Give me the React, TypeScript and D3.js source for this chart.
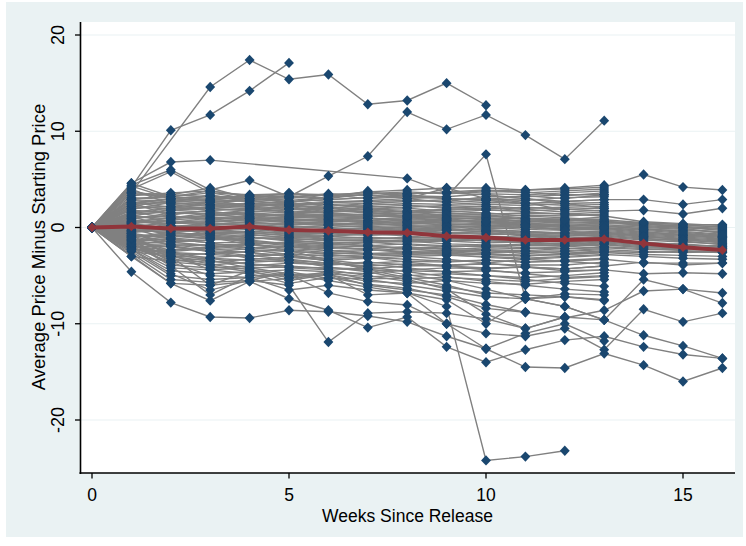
import React from 'react';
import * as d3 from 'd3';

const weeks = [0, 1, 2, 3, 4, 5, 6, 7, 8, 9, 10, 11, 12, 13, 14, 15, 16];

// average across titles (red line)
const meanChange = [0, 0.1, -0.1, -0.1, 0.1, -0.25, -0.35, -0.5, -0.55, -0.9, -1.05, -1.3, -1.3, -1.2, -1.65, -2.05, -2.35];

// titles observed for all 16 weeks
const longRun = [
  [0, 2.8, 2.5, 2.6, 2.2, 2.0, 1.8, 1.5, 1.2, 1.0, 0.8, 0.6, 0.5, 0.4, 0.3, 0.2, 0.1],
  [0, 1.5, 1.8, 1.6, 1.4, 1.2, 1.0, 0.9, 0.7, 0.5, 0.4, 0.2, 0.0, -0.1, -0.2, -0.3, -0.4],
  [0, 0.5, 0.8, 1.0, 0.9, 0.6, 0.5, 0.3, 0.2, 0.1, 0.0, -0.2, -0.3, -0.2, -0.5, -0.7, -0.9],
  [0, -0.5, -0.3, -0.4, -0.2, -0.5, -0.6, -0.8, -0.7, -0.9, -1.0, -1.1, -1.2, -1.0, -1.3, -1.5, -1.7],
  [0, -1.2, -1.5, -1.3, -1.0, -1.4, -1.6, -1.5, -1.8, -2.0, -1.9, -2.1, -2.2, -2.0, -2.2, -2.4, -2.6],
  [0, 0.2, 0.0, 0.3, 0.6, 0.2, 0.0, -0.2, -0.3, -0.5, -0.6, -0.8, -0.9, -0.7, -1.0, -1.2, -1.4],
  [0, 1.0, 1.2, 0.9, 1.1, 0.8, 0.6, 0.7, 0.5, 0.3, 0.3, 0.1, 0.2, 0.3, 0.0, -0.2, -0.5],
  [0, -2.0, -2.3, -2.1, -1.8, -2.2, -2.4, -2.3, -2.5, -2.6, -2.4, -2.7, -2.5, -2.3, -2.5, -2.6, -2.5],
  [0, 3.5, 3.2, 2.9, 2.7, 2.5, 2.4, 2.2, 2.0, 1.7, 1.5, 1.2, 1.0, 0.8, 0.5, 0.3, 0.0],
  [0, -0.8, -1.0, -0.7, -0.5, -0.9, -1.1, -1.0, -1.2, -1.4, -1.6, -1.5, -1.7, -1.5, -1.8, -2.0, -2.2],
  [0, 0.8, 0.4, 0.5, 0.3, 0.1, -0.1, -0.3, -0.1, -0.3, -0.4, -0.6, -0.5, -0.4, -0.7, -0.9, -1.1],
  [0, -1.6, -2.0, -2.4, -2.6, -3.0, -3.2, -3.1, -3.3, -3.5, -3.4, -3.6, -3.5, -3.3, -3.7, -3.7, -3.7],
  [0, 2.0, 2.2, 2.0, 1.7, 1.5, 1.3, 1.1, 1.3, 1.0, 0.9, 0.7, 0.6, 0.5, 0.4, 0.0, -0.3],
  [0, -0.2, -0.6, -0.8, -1.0, -1.2, -1.3, -1.4, -1.5, -1.4, -1.3, -1.6, -1.8, -1.6, -1.9, -2.1, -2.3],
  [0, 0.0, 0.2, -0.1, 0.0, -0.3, -0.4, -0.5, -0.6, -0.8, -0.9, -1.0, -0.9, -0.8, -1.1, -1.4, -1.8],
  [0, -2.5, -3.0, -3.5, -3.8, -4.0, -4.3, -4.4, -4.5, -4.6, -4.5, -4.7, -4.6, -4.4, -4.8, -4.7, -4.8],
  [0, 1.2, 0.9, 1.3, 1.5, 1.3, 1.1, 1.0, 0.8, 0.7, 0.6, 0.4, 0.3, 0.1, -0.1, -0.4, -0.7],
  [0, -1.0, -0.8, -1.1, -1.3, -1.7, -1.9, -2.0, -2.1, -2.2, -2.3, -2.4, -2.2, -2.1, -2.3, -2.3, -2.4],
  [0, 4.3, 3.0, 3.3, 3.0, 3.2, 3.4, 3.0, 3.2, 3.0, 2.8, 2.5, 2.7, 2.9, 2.9, 2.4, 2.9],
  [0, 4.6, 3.2, 3.8, 3.3, 3.5, 3.4, 3.6, 3.5, 3.6, 3.8, 3.9, 4.0, 4.2, 5.5, 4.2, 3.9],
  [0, 2.4, 2.6, 2.3, 2.1, 1.9, 2.0, 1.8, 1.6, 1.8, 1.9, 2.1, 1.9, 1.7, 1.8, 1.4, 2.0],
  [0, -3.0, -3.5, -3.2, -3.4, -3.6, -3.8, -3.6, -3.9, -4.0, -4.2, -4.1, -4.3, -4.0, -3.6, -3.9, -3.7],
  [0, 0.3, -0.2, -0.5, -0.4, -0.7, -0.8, -0.6, -0.9, -1.1, -1.2, -1.3, -1.4, -1.2, -1.6, -1.7, -2.0],
  [0, 1.8, 1.5, 1.4, 1.0, 0.9, 0.7, 0.5, 0.6, 0.4, 0.2, 0.0, -0.2, 0.0, -0.3, -0.6, -0.9],
  [0, -0.4, 0.1, 0.4, 0.2, 0.0, 0.2, 0.0, -0.2, -0.1, -0.3, -0.4, -0.6, -0.5, -0.8, -1.0, -1.2],
  [0, -1.4, -1.2, -1.6, -1.5, -1.9, -2.1, -2.2, -2.0, -2.3, -2.1, -2.2, -2.0, -1.8, -2.1, -2.2, -2.1],
  [0, 0.6, 1.0, 1.2, 1.4, 1.1, 0.9, 0.7, 0.9, 0.8, 0.6, 0.5, 0.2, 0.1, 0.2, 0.0, -0.2],
  [0, -2.3, -2.6, -2.8, -3.0, -2.8, -2.9, -3.0, -2.8, -2.9, -3.0, -3.2, -3.0, -2.8, -3.0, -3.2, -3.3],
  [0, 3.1, 2.9, 2.4, 2.5, 2.3, 2.1, 1.9, 1.8, 1.5, 1.3, 1.0, 0.8, 0.6, 0.4, 0.1, -0.1],
  [0, 2.6, 2.1, 1.8, 1.9, 1.6, 1.5, 1.3, 1.0, 0.8, 0.5, 0.3, 0.1, -0.1, -0.4, -0.8, -1.0],
  [0, 1.3, 0.6, 0.7, 0.5, 0.4, 0.2, 0.1, 0.0, -0.2, -0.2, -0.4, -0.6, -0.6, -0.9, -1.1, -1.3],
  [0, -0.6, -1.2, -0.9, -1.2, -1.0, -1.2, -1.2, -1.0, -1.1, -1.4, -1.4, -1.5, -1.3, -1.5, -1.8, -2.0],
  [0, -1.8, -1.8, -1.9, -2.1, -2.0, -2.2, -1.8, -2.3, -2.4, -2.6, -2.5, -2.7, -2.5, -2.6, -2.5, -2.6],
  [0, 0.9, 1.5, 1.7, 1.2, 1.0, 1.2, 1.2, 1.1, 1.0, 1.0, 0.9, 0.8, 0.6, 0.5, 0.3, 0.3],
  [0, -0.3, -0.4, -0.2, -0.6, -0.8, -0.9, -1.1, -1.2, -1.2, -1.1, -1.2, -1.1, -0.9, -1.2, -1.3, -1.5],
  [0, 2.2, 1.9, 2.1, 2.4, 2.2, 1.6, 1.7, 1.4, 1.2, 1.2, 0.9, 0.9, 0.7, 0.1, -0.1, -0.6],
  [0, -2.2, -2.5, -2.2, -2.3, -2.5, -2.7, -2.7, -2.6, -2.7, -2.8, -2.9, -2.8, -2.6, -2.8, -2.9, -3.0],
  [0, 0.1, 0.5, 0.6, 0.8, 0.5, 0.3, 0.4, 0.3, 0.2, 0.1, 0.0, -0.1, -0.3, -0.6, -0.8, -1.0],
  [0, -0.9, -0.7, -0.6, -0.7, -1.1, -1.4, -1.3, -1.4, -1.7, -1.8, -1.9, -1.9, -1.7, -2.0, -2.1, -2.2],
  [0, 1.6, 1.0, 1.1, 0.7, 0.7, 0.8, 0.6, 0.4, 0.6, 0.7, 0.3, 0.4, 0.2, -0.2, -0.5, -0.8],
  [0, -1.4, -1.7, -1.8, -1.7, -1.6, -1.7, -1.9, -1.7, -1.9, -2.0, -1.8, -1.6, -1.4, -1.7, -1.9, -1.9],
  [0, 0.4, -0.1, 0.1, -0.2, -0.1, -0.3, -0.4, -0.4, -0.6, -0.7, -0.7, -0.8, -0.6, -0.9, -1.3, -1.6],
  [0, 2.9, 2.7, 2.8, 2.3, 2.4, 2.6, 2.5, 2.3, 2.0, 2.2, 1.6, 1.4, 1.2, 0.6, 0.4, 0.2],
];

// titles that drop out before week 16
const shortRun = [
  [0, 3.0, 3.2, 3.6, 3.4, 3.5, 3.3, 3.7, 3.9, 4.1, 4.1, 3.9, 4.1, 4.4],
  [0, 2.2, 2.8, 3.0, 3.0, 2.7, 2.9, 3.1, 3.3, 3.2, 3.5, 3.4, 3.6, 3.8],
  [0, 1.6, 2.0, 2.4, 2.5, 2.6, 2.2, 2.5, 2.7, 2.9, 3.0, 2.8, 3.1, 3.2],
  [0, 0.9, 1.3, 1.8, 2.0, 1.7, 1.6, 1.9, 2.1, 2.3, 2.4, 2.3, 2.5, 2.6],
  [0, -0.6, 0.5, 1.0, 1.2, 1.4, 1.2, 1.4, 1.5, 1.6, 1.8, 1.7, 1.9, 2.0],
  [0, 0.4, 0.7, 0.3, 0.6, 0.9, 0.8, 0.9, 1.0, 1.2, 1.1, 1.3, 1.2, 1.4],
  [0, -0.3, 0.0, 0.2, 0.4, 0.3, 0.4, 0.2, 0.5, 0.7, 0.5, 0.8, 0.7, 0.9],
  [0, -1.0, -0.5, -0.3, 0.0, -0.4, -0.2, -0.1, 0.1, 0.0, 0.2, 0.3, 0.1, 0.3],
  [0, -1.8, -1.4, -1.1, -0.8, -1.0, -0.9, -0.7, -0.5, -0.6, -0.4, -0.5, -0.7, -0.5],
  [0, null, -2.4, -2.0, -1.7, -1.5, -1.8, -1.6, -1.4, -1.2, -1.1, -1.3, -1.2, -1.0],
  [0, -2.3, -2.9, -2.7, -2.5, -2.3, -2.6, -2.4, -2.2, -2.0, -1.9, -1.7, -1.9, -1.7],
  [0, null, -3.4, -3.6, -3.3, -3.1, -3.4, -3.2, -3.0, -2.9, -2.7, -2.9, -2.8, -2.6],
  [0, -1.5, -3.9, -4.2, -4.0, -3.7, -3.9, -3.7, -3.5, -3.6, -3.4, -3.6, -3.4, -3.2],
  [0, null, -4.5, -4.8, -4.6, -4.4, -4.6, -4.8, -4.4, -4.2, -4.3, -4.1, -4.3, -4.0],
  [0, null, -5.0, -5.4, -5.2, -4.9, -4.8, -5.1, -5.0, -4.8, -5.0, -5.2, -5.0, -4.7],
  [0, null, -5.8, -6.0, -5.6, -5.3, -4.9, -5.6, -5.8, -5.5, -5.8, -5.9, -5.6, -5.4],
  [0, 3.8, 3.0, 2.7, 2.9, 3.1, 3.5, 3.3, 3.5, 3.7, 3.9, 3.6, 3.8, 4.0],
  [0, 4.0, 2.4, 2.2, 2.5, 2.3, 2.6, 2.8, 3.0, 2.6, 2.8, 3.0, 2.7, 2.9],
  [0, 1.4, 1.6, 1.4, 1.8, 2.2, 2.0, 2.3, 2.5, 2.4, 2.6, 2.5, 2.3, 2.4],
  [0, 0.1, -0.8, -1.2, -1.4, -1.8, -2.0, -2.3, -2.6, -2.8, -3.1, -3.3, -3.5, -3.8],
  [0, -0.9, -1.8, -2.2, -2.6, -3.0, -3.4, -3.8, -4.2, -4.6, -5.0, -5.4, -5.8, -6.1],
  [0, -1.3, -2.6, -3.2, -3.8, -4.2, -4.4, -5.0, -5.6, -6.2, -6.8, -7.0, -7.2, -7.5],
  [0, -2.1, -3.2, -4.0, -4.6, -5.2, -4.6, -5.4, -6.0, -6.6, -7.2, -7.4, -6.9, -7.0],
  [0, 2.6, 1.2, 0.8, 1.0, 0.6, 0.3, 0.5, 0.2, -0.2, -0.5, -0.9, -1.1, -1.4],
  [0, 3.3, 3.6, 3.8, 3.2, 2.8, 2.4, 2.0, 1.6, 1.3, 1.0, 0.6, 0.8, 1.1],
  [0, -0.1, -1.2, -1.6, -2.1, -2.4, -2.8, -3.1, -3.6, -4.0, -4.4, -4.8, -5.2, -5.0],
  [0, 0.7, 0.2, -0.6, -1.0, -1.3, -1.6, -1.9, -2.2, -2.5, -2.8, -3.0, -2.7, -2.4],
  [0, 1.9, 2.6, 3.4, 2.6, 2.0, 1.5, 1.0, 0.6, 0.2, -0.3, -0.8, -1.4, -2.0],
  [0, -1.7, -3.0, -3.8, -4.4, -5.0, -4.9, -6.0, -6.5, -7.0, -8.0, -8.8],
  [0, 1.1, 0.1, -0.8, -1.6, -2.4, -3.4, -4.4, -5.2, -6.0, -7.0],
  [0, 2.9, 3.4, 4.1, 3.0, 3.6, 3.0, 3.8, 3.0, 4.1, 3.0, 2.6, 1.8],
  [0, -2.0, -2.0, -2.5, -3.2, -3.4, -4.1, -4.6, -5.4, -6.4, -9.0, -10.5, -9.3],
  [0, -0.7, -1.5, -1.9, -2.3, -2.8, -3.5, -4.3, -4.9, -5.5, -6.4, -7.4, -7.2, -7.6],
  [0, 3.6, 3.4, 3.2, 3.2, 3.3, 3.0, 3.5, 3.7, 3.5, 3.7, 3.7, 3.3, 3.6],
  [0, 2.0, 2.2, 2.6, 2.8, 3.0, 2.7, 2.7, 2.8, 2.7, 3.2, 3.2, 3.4, 3.4],
  [0, 1.2, 1.8, 2.0, 2.2, 2.4, 2.4, 2.1, 2.3, 2.1, 2.2, 2.0, 2.1, 2.2],
  [0, 0.6, 1.0, 1.5, 1.6, 1.9, 1.8, 1.6, 1.7, 1.9, 2.0, 1.9, 1.6, 1.8],
  [0, -0.4, -0.1, 0.6, 0.9, 1.1, 1.4, 1.3, 1.2, 1.4, 1.4, 1.5, 1.4, 1.6],
  [0, -1.3, -1.0, -0.6, -0.4, -0.6, -0.6, -0.4, -0.3, -0.3, -0.1, 0.0, -0.2, 0.0],
  [0, null, -3.0, -3.1, -2.9, -2.7, -3.0, -2.8, -2.7, -2.4, -2.4, -2.5, -2.4, -2.2],
  [0, null, -4.2, -4.4, -4.2, -4.1, -4.2, -4.3, -4.0, -3.9, -3.8, -3.9, -3.9, -3.6],
  [0, null, -5.4, -5.7, -5.5, -4.6, -5.3, -5.3, -5.3, -5.2, -5.4, -5.6, -5.3, -5.1],
  [0, -2.0, -3.6, -3.9, -3.6, -3.4, -3.7, -4.0, -3.8, -4.0, -3.7, -3.3, -3.1, -2.9],
  [0, -0.6, -1.9, -2.5, -2.9, -3.3, -3.7, -4.1, -4.6, -5.1, -5.6, -6.0, -6.4, -6.7],
  [0, 0.5, -0.4, -1.0, -1.8, -2.0, -2.4, -2.7, -3.0, -3.3, -3.7, -4.1, -4.5, -4.4],
  [0, 2.4, 3.0, 3.2, 2.8, 2.4, 2.0, 1.6, 1.2, 0.9, 0.6, 0.2, -0.3, -0.8],
];

// titles that rose well above their launch price
const upperOutliers = [
  [0, 4.2, 10.1, 11.7, 14.2, 17.1],
  [0, 3.6, null, 14.6, 17.4, 15.4, 15.9, 12.8, 13.2, 15.0, 12.7],
  [0, 2.5, 3.0, 2.8, 3.3, 3.2, 5.35, 7.4, 12.0, 10.2, 11.7, 9.6, 7.1, 11.1],
  [0, 4.6, 6.8, 7.0, null, null, null, null, 5.1, 3.6, 3.4, 3.0, 2.5, 2.0],
  [0, 4.4, 6.0, 3.9, 4.9, 3.2, 2.9, 3.1, 3.4, 3.0, 2.9, 3.3, 3.0, 3.4],
  [0, 4.0, 5.8, 3.6, 3.0, 2.6, 3.2, 3.4, 3.0, 3.2, 7.6, -7.4, -8.2, -9.6],
];

// titles that fell well below their launch price
const lowerOutliers = [
  [0, -1.9, -2.7, -3.4, -4.2, -4.8, -5.5, -6.2, -6.8, -8.2, -24.2, -23.8, -23.2],
  [0, -4.6, -7.8, -9.3, -9.4, -8.6, -8.75, -9.2, -9.8, -11.3, -12.6, -14.5, -14.6, -13.1, -14.3, -16.0, -14.6],
  [0, -3.0, -5.8, -7.6, -5.6, -7.4, -8.6, -10.4, -9.3, -12.4, -14.0, -12.7, -11.7, -11.3, -12.4, -13.2, -13.6],
  [0, -2.3, -4.8, -6.5, -5.5, -6.0, -11.9, -8.9, -8.75, -8.9, -9.5, -10.5, -9.3, -9.6, -11.2, -12.3, -13.6],
  [0, -1.6, -4.0, -7.0, -5.0, -4.9, -6.8, -7.7, -8.05, -10.0, -11.0, -11.3, -10.5, -12.7, -8.5, -9.8, -8.9],
  [0, -0.8, -3.0, -6.0, -4.5, -5.5, -4.9, -7.0, -6.8, -7.5, -10.0, -7.4, -8.2, -9.6, -5.4, -6.4, -7.85],
  [0, -1.2, -3.6, -5.0, -5.2, -6.5, -6.0, -6.5, -6.8, -10.0, -12.6, -11.0, -10.0, -11.8],
  [0, -1.1, -2.8, -4.4, -4.8, -5.8, -5.2, -5.9, -6.3, -7.2, -8.4, -8.8, -9.4, -8.6, -6.6, -6.4, -6.8],
];

const xTicks = [0, 5, 10, 15];
const yTicks = [-20, -10, 0, 10, 20];

const font = '"Liberation Sans", Arial, Helvetica, sans-serif';
const navy = '#1A476F';
const maroon = '#90353B';
const bg = '#EAF2F3';

const diamond = (r: number) => `M0,${-r}L${r * 0.95},0L0,${r}L${-r * 0.95},0Z`;

if (typeof document !== 'undefined') document.body.style.margin = '0';

export default function App() {
  const width = 746, height = 546;
  const plot = { left: 80.5, right: 735, top: 22, bottom: 473 };

  const x = d3.scaleLinear().domain([0, 16]).range([92, 722.4]);
  const y = d3.scaleLinear().domain([-20, 20]).range([420, 35]);

  const allSeries = [...longRun, ...shortRun, ...upperOutliers, ...lowerOutliers];
  const toPoints = (s: (number | null)[]) =>
    s.map((v, i) => (v == null ? null : [weeks[i], v] as [number, number]))
      .filter((p): p is [number, number] => p !== null);

  const line = d3.line<[number, number]>().x(d => x(d[0])).y(d => y(d[1]));
  const meanPts = toPoints(meanChange);

  return (
    <svg width={width} height={height} style={{ display: 'block', background: '#fff' }}>
      <rect x={6} y={2} width={737} height={535} fill={bg} />
      <rect x={plot.left} y={plot.top} width={plot.right - plot.left} height={plot.bottom - plot.top} fill="#fff" />

      {yTicks.map(t => (
        <line key={'g' + t} x1={plot.left} x2={plot.right} y1={y(t)} y2={y(t)} stroke={bg} strokeWidth={1.2} />
      ))}

      <g fill="none" stroke="#808080" strokeWidth={1.4}>
        {allSeries.map((s, i) => (
          <path key={i} d={line(toPoints(s)) || ''} />
        ))}
      </g>

      <g fill={navy}>
        {allSeries.map((s, i) =>
          toPoints(s).map((p, j) => (
            <path key={i + '-' + j} d={diamond(5.2)} transform={`translate(${x(p[0])},${y(p[1])})`} />
          ))
        )}
      </g>

      <path d={line(meanPts) || ''} fill="none" stroke={maroon} strokeWidth={4} strokeLinejoin="round" />
      <g fill={maroon}>
        {meanPts.map((p, j) => (
          <path key={j} d={diamond(4.8)} transform={`translate(${x(p[0])},${y(p[1])})`} />
        ))}
      </g>

      {/* axes */}
      <line x1={plot.left} x2={plot.left} y1={plot.top} y2={plot.bottom + 1} stroke="#000" strokeWidth={1.6} />
      <line x1={plot.left - 1} x2={plot.right} y1={plot.bottom} y2={plot.bottom} stroke="#000" strokeWidth={1.6} />

      {yTicks.map(t => (
        <g key={'yt' + t}>
          <line x1={plot.left - 5.5} x2={plot.left} y1={y(t)} y2={y(t)} stroke="#000" strokeWidth={1.3} />
          <text transform={`translate(63.5,${y(t)}) rotate(-90)`} textAnchor="middle" fontFamily={font} fontSize={18} fill="#000">
            {t}
          </text>
        </g>
      ))}
      {xTicks.map(t => (
        <g key={'xt' + t}>
          <line x1={x(t)} x2={x(t)} y1={plot.bottom} y2={plot.bottom + 5.5} stroke="#000" strokeWidth={1.3} />
          <text x={x(t)} y={501} textAnchor="middle" fontFamily={font} fontSize={17.5} fill="#000">
            {t}
          </text>
        </g>
      ))}

      <text transform={`translate(45,247) rotate(-90)`} textAnchor="middle" fontFamily={font} fontSize={18.5} fill="#000">
        Average Price Minus Starting Price
      </text>
      <text x={407.5} y={521.5} textAnchor="middle" fontFamily={font} fontSize={17.5} fill="#000">
        Weeks Since Release
      </text>
    </svg>
  );
}
